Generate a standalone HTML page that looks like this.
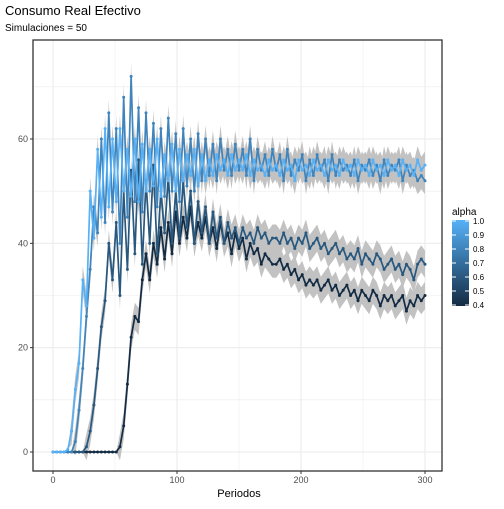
<!DOCTYPE html>
<html><head><meta charset="utf-8"><style>
body{margin:0;background:#fff;font-family:"Liberation Sans",sans-serif}
</style></head><body>
<svg id="chart" width="504" height="504" xmlns="http://www.w3.org/2000/svg">
<rect width="504" height="504" fill="#fff"/>
<text x="5" y="15" font-size="13" fill="#000">Consumo Real Efectivo</text>
<text x="5" y="31" font-size="10" fill="#000">Simulaciones = 50</text>
<g id="grid"></g><g id="ribbons"></g><g id="lines"></g><g id="axes"></g>
<text x="239" y="497" font-size="11" fill="#000" text-anchor="middle">Periodos</text>
<g>
<text x="452" y="215" font-size="10">alpha</text>
<defs><linearGradient id="lg" x1="0" y1="1" x2="0" y2="0"><stop offset="0" stop-color="#132B43"/><stop offset="1" stop-color="#56B1F7"/></linearGradient></defs>
<rect x="452" y="220" width="17" height="86" fill="url(#lg)"/>
<g id="legticks"></g>
</g>
</svg>
<script>
const step = 3;
const alphas = [0.4, 0.6, 0.8, 1.0];
const seriesD = [0,0,0,0,0,0,0,0,0,0, 0,0,0,0,0,0,0,0,1,5, 13,22,26,25,33,38,33,40,36,43, 37,44,38,46,40,45,41,47,40,44, 41,45,40,43,39,44,40,42,38,42, 39,41,37,40,38,39,36,38,37,36, 36,37,35,36,34,35,33,34,32,33, 32,33,31,32,33,31,32,30,31,32, 30,31,29,31,30,29,31,30,28,30, 29,30,28,29,30,27,29,28,30,29, 30];
const seriesM2 = [0,0,0,0,0,0,0,0,0,1, 4,9,16,24,29,40,33,44,30,50, 35,54,38,56,36,52,40,55,38,50, 42,53,40,50,41,52,43,50,40,48, 42,47,40,46,41,45,40,44,41,43, 40,43,41,42,40,43,41,42,40,41, 41,40,42,40,41,39,41,40,42,39, 40,41,39,40,38,39,40,38,39,37, 38,37,39,36,38,37,36,38,37,35, 36,37,35,36,34,36,35,33,36,37, 36];
const seriesM1 = [0,0,0,0,0,0,2,8,16,26, 35,47,42,60,44,65,46,62,40,68, 45,72,48,66,46,65,50,63,47,62, 49,64,50,61,48,62,51,60,50,61, 52,60,53,59,52,60,54,58,53,59, 54,58,53,60,52,58,54,57,53,58, 54,57,52,58,53,56,54,57,52,56, 53,57,54,56,52,57,53,56,54,55, 53,56,52,55,54,56,53,55,52,56, 53,55,54,56,52,55,53,54,52,53, 52];
const seriesL = [0,0,0,0,0.5,4,12,17,33,28, 50,41,58,45,62,47,60,48,62,50, 58,49,60,48,59,50,58,51,60,49, 57,52,59,50,58,52,57,53,58,51, 57,52,56,53,57,54,56,53,57,54, 56,54,57,53,56,54,55,53,56,54, 55,53,56,54,55,52,56,54,55,53, 56,54,55,53,56,54,55,53,56,54, 55,53,56,54,55,53,56,54,55,53, 56,54,55,53,56,54,55,53,56,54, 55];
const spread = 2.6;
const xTicks = [0,100,200,300];
const yTicks = [0,20,40,60];
const legendTicks = [0.4,0.5,0.6,0.7,0.8,0.9,1.0];

const P={l:33,r:442,t:40,b:471};
const xs=v=>53+v*(425-53)/300;
const ys=v=>452-v*(452-139)/60;
const NS="http://www.w3.org/2000/svg";
function mk(tag,attrs,parent){const e=document.createElementNS(NS,tag);for(const k in attrs)e.setAttribute(k,attrs[k]);parent.appendChild(e);return e;}
function col(a){const t=(a-0.4)/0.6;const c0=[19,43,67],c1=[86,177,247];return `rgb(${c0.map((c,i)=>Math.round(c+(c1[i]-c)*t)).join(',')})`;}
const grid=document.getElementById('grid');
for(let v=-50;v<=350;v+=50){const x=xs(v);if(x<P.l||x>P.r)continue;const l=mk('line',{x1:x,x2:x,y1:P.t,y2:P.b,stroke:'#ebebeb','stroke-width':v%100===0?1.1:0.55},grid);

}
for(let v=-10;v<=80;v+=10){const y=ys(v);if(y<P.t||y>P.b)continue;const l=mk('line',{x1:P.l,x2:P.r,y1:y,y2:y,stroke:'#ebebeb','stroke-width':v%20===0?1.1:0.55},grid);

}
const all=[seriesD,seriesM2,seriesM1,seriesL];
const names=['alpha-0.4','alpha-0.6','alpha-0.8','alpha-1.0'];
const rg=document.getElementById('ribbons'),lg=document.getElementById('lines');
all.forEach((s,k)=>{const up=s.map((v,i)=>`${xs(i*step)},${ys(v>0.5?v+spread:v)}`);const lo=s.map((v,i)=>`${xs(i*step)},${ys(v>0.5?v-spread:v)}`).reverse();
const r=mk('polygon',{points:up.concat(lo).join(' '),fill:'#c2c2c2'},rg);

});
all.forEach((s,k)=>{const c=col(alphas[k]);const g=mk('g',{},lg);


mk('polyline',{points:s.map((v,i)=>`${xs(i*step)},${ys(v)}`).join(' '),fill:'none',stroke:c,'stroke-width':1.7,'stroke-linejoin':'round'},g);
s.forEach((v,i)=>{const p=mk('circle',{cx:xs(i*step),cy:ys(v),r:1.5,fill:c},g);

});});
const ax=document.getElementById('axes');
mk('rect',{x:P.l,y:P.t,width:P.r-P.l,height:P.b-P.t,fill:'none',stroke:'#333','stroke-width':1.3},ax);
xTicks.forEach(v=>{const x=xs(v);mk('line',{x1:x,x2:x,y1:P.b,y2:P.b+3,stroke:'#333'},ax);const t=mk('text',{x:x,y:P.b+12,'font-size':9,fill:'#4d4d4d','text-anchor':'middle'},ax);t.textContent=v;

});
yTicks.forEach(v=>{const y=ys(v);mk('line',{x1:P.l-3,x2:P.l,y1:y,y2:y,stroke:'#333'},ax);const t=mk('text',{x:P.l-5,y:y+3,'font-size':9,fill:'#4d4d4d','text-anchor':'end'},ax);t.textContent=v;

});
const lt=document.getElementById('legticks');
legendTicks.forEach(v=>{const y=306-(v-0.4)/0.6*84-1;mk('line',{x1:452,x2:456,y1:y,y2:y,stroke:'#fff'},lt);mk('line',{x1:465,x2:469,y1:y,y2:y,stroke:'#fff'},lt);const t=mk('text',{x:473,y:y+3,'font-size':8,fill:'#000'},lt);t.textContent=v.toFixed(1);

});
</script>
</body></html>
